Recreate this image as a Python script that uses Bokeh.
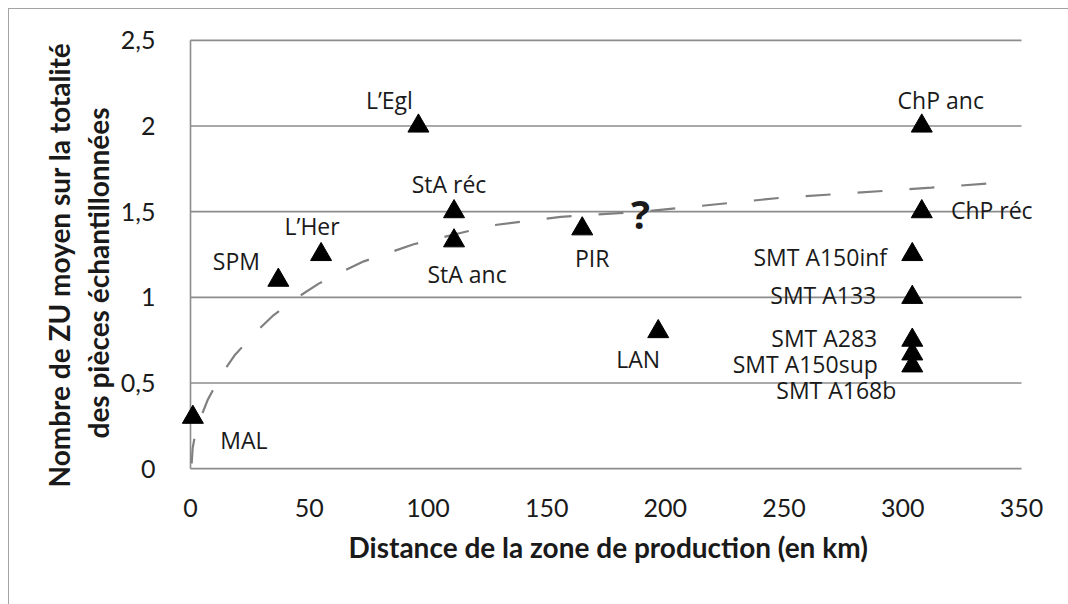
from bokeh.plotting import figure
from bokeh.models import (FixedTicker, Label, ColumnDataSource, Range1d, Title,
                          InlineStyleSheet)
from bokeh.core.properties import value
from bokeh.embed import file_html
from bokeh.resources import INLINE

# Sites: distance to the production zone (km) and mean number of ZU per sample
sites = ["MAL", "SPM", "L\u2019Her", "L\u2019Egl", "StA r\u00e9c", "StA anc", "PIR", "LAN",
         "ChP anc", "ChP r\u00e9c", "SMT A150inf", "SMT A133", "SMT A283",
         "SMT A150sup", "SMT A168b"]
distance_km = [1, 37, 55, 96, 111, 111, 165, 197, 308, 308, 304, 304, 304, 304, 304]
mean_zu = [0.3, 1.1, 1.25, 2.0, 1.5, 1.33, 1.4, 0.8, 2.0, 1.5, 1.25, 1.0, 0.75, 0.67, 0.6]

# Logarithmic trend curve, sampled along its course
trend_x = [0.5, 0.9, 2, 3.8, 7.2, 13, 18.5, 27, 34.5, 44, 54, 64, 73, 94, 115, 127,
           156, 190, 205, 248, 280, 312, 337]
trend_y = [0.03, 0.12, 0.2, 0.28, 0.40, 0.55, 0.66, 0.79, 0.89, 0.99, 1.08, 1.15, 1.21,
           1.31, 1.38, 1.42, 1.47, 1.50, 1.52, 1.58, 1.61, 1.64, 1.665]

x_ticks = [0, 50, 100, 150, 200, 250, 300, 350]
y_ticks = [0, 0.5, 1, 1.5, 2, 2.5]
y_tick_labels = ["0", "0,5", "1", "1,5", "2", "2,5"]

# label placement around each triangle (screen pixels)
label_dx = [51, -42, -9, -29, -5, 13, 10, -20, 19, 70, -92, -89, -88, -107, -76]
label_dy = [23, -19, -29, -26, -28, 33, 29, 27, -26, -2, 2, -2, -2, 10, 24]

GRID = "#8c8c8c"
TEXT = "#1a1a1a"

p = figure(width=1068, height=604, output_backend="svg", toolbar_location=None,
           x_range=Range1d(-8, 369.8), y_range=Range1d(-0.04, 2.54),
           min_border_left=171, min_border_right=0, min_border_top=33,
           min_border_bottom=129)
p.outline_line_color = None
p.background_fill_color = "white"
p.border_fill_color = "white"
p.grid.visible = False

# chart-area frame line (left and top edges)
p.stylesheets = [InlineStyleSheet(css=(
    ":host::after{content:'';position:absolute;left:8px;top:8px;right:0;bottom:0;"
    "border-left:1.6px solid #a3a3a3;border-top:1.6px solid #a3a3a3;"
    "pointer-events:none;}"))]

for ax in (p.xaxis[0], p.yaxis[0]):
    ax.axis_line_color = None
    ax.major_tick_line_color = None
    ax.minor_tick_line_color = None
    ax.major_label_text_font = "Lato"
    ax.major_label_text_font_size = "25px"
    ax.major_label_text_color = TEXT

p.xaxis.ticker = FixedTicker(ticks=x_ticks)
p.xaxis.major_label_standoff = 17
p.yaxis.ticker = FixedTicker(ticks=y_ticks)
p.yaxis.major_label_overrides = {t: s for t, s in zip(y_ticks, y_tick_labels)}
p.yaxis.major_label_standoff = 10

# horizontal gridlines across the 0-350 km span, plus the vertical axis line
p.segment(x0=[x_ticks[0]] * len(y_ticks), x1=[x_ticks[-1]] * len(y_ticks),
          y0=y_ticks, y1=y_ticks, line_color=GRID, line_width=1.6)
p.segment(x0=[x_ticks[0]], x1=[x_ticks[0]], y0=[y_ticks[0]], y1=[y_ticks[-1]],
          line_color=GRID, line_width=1.6)

# dashed trend curve
p.line(trend_x, trend_y, line_color="#808080", line_width=2.2, line_dash="25 27")

# site markers
src = ColumnDataSource(dict(x=distance_km, y=mean_zu, name=sites,
                            dx=label_dx, dy=label_dy))
p.scatter("x", "y", source=src, marker="triangle", size=21,
          fill_color="black", line_color="black")
p.text("x", "y", text="name", source=src, x_offset="dx", y_offset="dy",
       text_font=value("Open Sans"), text_font_size="23px", text_color=TEXT,
       text_align="center", text_baseline="middle")

# question mark on the curve
p.add_layout(Label(x=189.6, y=1.49, text="?", text_font="Open Sans",
                   text_font_style="bold", text_font_size="40px", text_color=TEXT,
                   text_align="center", text_baseline="middle"))

# axis titles
title_style = dict(text_font="Lato", text_font_style="bold", text_font_size="28px",
                   text_color=TEXT, align="left")
p.add_layout(Title(text="Distance de la zone de production (en km)", offset=177,
                   standoff=16, **title_style), "below")
p.add_layout(Title(text="des pi\u00e8ces \u00e9chantillonn\u00e9es", offset=37,
                   standoff=5, **title_style), "left")
p.add_layout(Title(text="Nombre de ZU moyen sur la totalit\u00e9", offset=-12,
                   standoff=1, **title_style), "left")

open("out.html", "w").write(file_html(p, INLINE))
